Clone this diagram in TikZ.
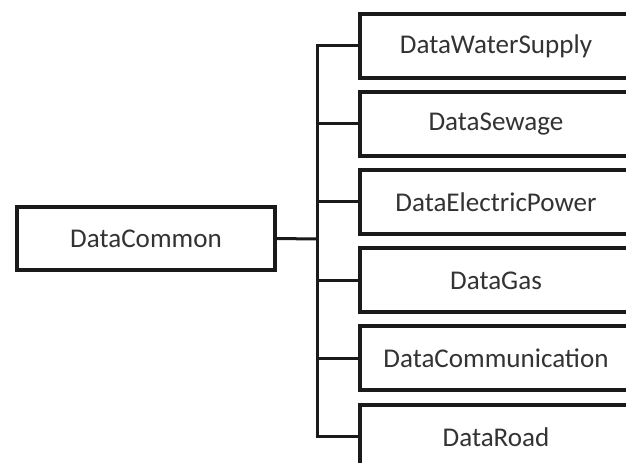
\documentclass[tikz,border=0pt]{standalone}
\usepackage{fontspec}
\setmainfont{Carlito}
\definecolor{lin}{HTML}{1A1A1A}
\definecolor{txt}{HTML}{333333}
\begin{document}
\begin{tikzpicture}[x=0.75pt,y=-0.75pt,
  databox/.style={draw=lin, line width=3pt, fill=white, rectangle, inner sep=0pt, outer sep=0pt,
    minimum width=204pt, minimum height=48pt, text=txt, font=\fontsize{20.3}{24}\selectfont},
  commonbox/.style={databox, minimum width=193.5pt, minimum height=47pt},
  conn/.style={draw=lin, line width=2.25pt}]
\useasboundingbox (0,0) rectangle (626,463);
\clip (0,0) rectangle (626,463);
\fill[white] (0,0) rectangle (626,463);
\node[commonbox] (dc) at (146,238.5) {DataCommon};
\node[databox] (ws) at (496,46) {DataWaterSupply};
\node[databox] (sw) at (496,124) {DataSewage};
\node[databox] (ep) at (496,202) {DataElectricPower};
\node[databox] (gas) at (496,280.5) {DataGas};
\node[databox] (com) at (496,358.5) {DataCommunication};
\node[databox] (road) at (496,437) {DataRoad};
\coordinate (bus) at (317,239);
\draw[conn] (dc.east) -- (bus);
\draw[conn] (ws.west) -| (bus) |- (road.west);
\draw[conn] (sw.west) -- (sw.west -| bus);
\draw[conn] (ep.west) -- (ep.west -| bus);
\draw[conn] (gas.west) -- (gas.west -| bus);
\draw[conn] (com.west) -- (com.west -| bus);
\end{tikzpicture}
\end{document}
